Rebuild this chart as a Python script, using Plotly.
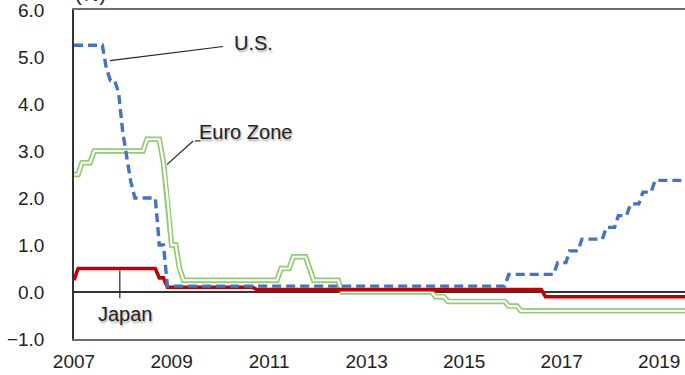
import plotly.graph_objects as go

# Policy rates (%), monthly breakpoints; lines connect consecutive points
us_dates = ["2007-01", "2007-08", "2007-09", "2007-10", "2007-11", "2007-12",
            "2008-01", "2008-02", "2008-03", "2008-04", "2008-09", "2008-10",
            "2008-11", "2008-12", "2015-11", "2015-12", "2016-11", "2016-12",
            "2017-02", "2017-03", "2017-05", "2017-06", "2017-11", "2017-12",
            "2018-02", "2018-03", "2018-05", "2018-06", "2018-08", "2018-09",
            "2018-11", "2018-12", "2019-08"]
us_vals = [5.25, 5.25, 4.75, 4.5, 4.5, 4.25,
           3.4, 2.85, 2.35, 2.0, 2.0, 1.0,
           1.0, 0.125, 0.125, 0.375, 0.375, 0.625,
           0.625, 0.875, 0.875, 1.125, 1.125, 1.375,
           1.375, 1.625, 1.625, 1.875, 1.875, 2.125,
           2.125, 2.375, 2.375]

eu_dates = ["2007-01", "2007-02", "2007-03", "2007-05", "2007-06", "2008-06",
            "2008-07", "2008-10", "2008-11", "2008-12", "2009-01", "2009-02",
            "2009-03", "2009-04", "2011-03", "2011-04", "2011-06", "2011-07",
            "2011-10", "2011-11", "2011-12", "2012-06", "2012-07", "2014-05",
            "2014-06", "2014-08", "2014-09", "2015-11", "2015-12", "2016-02",
            "2016-03", "2019-08"]
eu_vals = [2.5, 2.5, 2.75, 2.75, 3.0, 3.0,
           3.25, 3.25, 2.75, 2.0, 1.0, 1.0,
           0.5, 0.25, 0.25, 0.5, 0.5, 0.75,
           0.75, 0.5, 0.25, 0.25, 0.0, 0.0,
           -0.1, -0.1, -0.2, -0.2, -0.3, -0.3,
           -0.4, -0.4]

jp_dates = ["2007-01", "2007-02", "2008-09", "2008-10", "2008-11", "2008-12",
            "2010-09", "2010-10", "2016-08", "2016-09", "2019-08"]
jp_vals = [0.25, 0.5, 0.5, 0.3, 0.3, 0.1,
           0.1, 0.05, 0.05, -0.1, -0.1]

year_ticks = ["2007", "2009", "2011", "2013", "2015", "2017", "2019"]
y_ticks = [-1, 0, 1, 2, 3, 4, 5, 6]

BLUE = "#4472c4"
RED = "#c00000"
GREEN = "#93cb72"
FONT = "Liberation Sans, Arial, sans-serif"

fig = go.Figure()

# Euro Zone: hollow double line (green stroke with white core)
fig.add_trace(go.Scatter(x=eu_dates, y=eu_vals, mode="lines",
                         line=dict(color=GREEN, width=5.5), hoverinfo="skip",
                         showlegend=False))
fig.add_trace(go.Scatter(x=eu_dates, y=eu_vals, mode="lines",
                         line=dict(color="white", width=2.2), name="Euro Zone",
                         showlegend=False))
# Japan
fig.add_trace(go.Scatter(x=jp_dates, y=jp_vals, mode="lines",
                         line=dict(color=RED, width=3.6), name="Japan",
                         showlegend=False))
# U.S.
fig.add_trace(go.Scatter(x=us_dates, y=us_vals, mode="lines",
                         line=dict(color=BLUE, width=3.4, dash="9px,5px"),
                         name="U.S.", showlegend=False))

label_font = dict(family=FONT, size=20, color="#222222",
                  shadow="1px 2px 2px rgba(0,0,0,0.35)")

annotations = [
    dict(text="U.S.", x=0.293, y=0.901),
    dict(text="Euro Zone", x=0.280, y=0.628),
    dict(text="Japan", x=0.085, y=0.075),
]
for a in annotations:
    a.update(xref="paper", yref="paper", showarrow=False, font=label_font,
             xanchor="center", yanchor="middle")
annotations.append(dict(text="(%)", xref="paper", yref="paper", x=0.027, y=1.009,
                        xanchor="center", yanchor="bottom", showarrow=False,
                        font=dict(family=FONT, size=20, color="#222222")))

# Leader lines from labels to their series
leader = dict(color="#222222", width=1.2)
shapes = [
    dict(type="line", xref="paper", yref="paper", x0=0.059, y0=0.846,
         x1=0.244, y1=0.889, line=leader),
    dict(type="line", xref="paper", yref="paper", x0=0.152, y0=0.530,
         x1=0.195, y1=0.602, line=leader),
    dict(type="line", xref="paper", yref="paper", x0=0.198, y0=0.602,
         x1=0.207, y1=0.602, line=leader),
    dict(type="line", xref="paper", yref="paper", x0=0.075, y0=0.208,
         x1=0.075, y1=0.124, line=leader),
]

fig.update_layout(
    width=685, height=375,
    margin=dict(l=74, r=0, t=7, b=36),
    paper_bgcolor="white", plot_bgcolor="white",
    font=dict(family=FONT, size=19, color="#222222"),
    annotations=annotations, shapes=shapes,
)
fig.update_xaxes(
    type="date", range=["2007-01-01", "2019-07-13"],
    tickvals=[y + "-01-01" for y in year_ticks], ticktext=year_ticks,
    showgrid=False, zeroline=False, showline=True, linecolor="#6e6e6e",
    linewidth=1.5, mirror=True, ticks="", ticklabelstandoff=4,
    ticklabeloverflow="allow",
    tickfont=dict(family=FONT, size=19, color="#222222"),
)
fig.update_yaxes(
    range=[-1, 6], tickvals=y_ticks, tickformat=".1f",
    showgrid=False, zeroline=True, zerolinecolor="#333333", zerolinewidth=1.5,
    showline=True, linecolor="#333333", linewidth=1.5, ticks="",
    ticklabelstandoff=24, ticklabeloverflow="allow",
    tickfont=dict(family=FONT, size=19, color="#222222"),
)

fig.write_html("out.html")
